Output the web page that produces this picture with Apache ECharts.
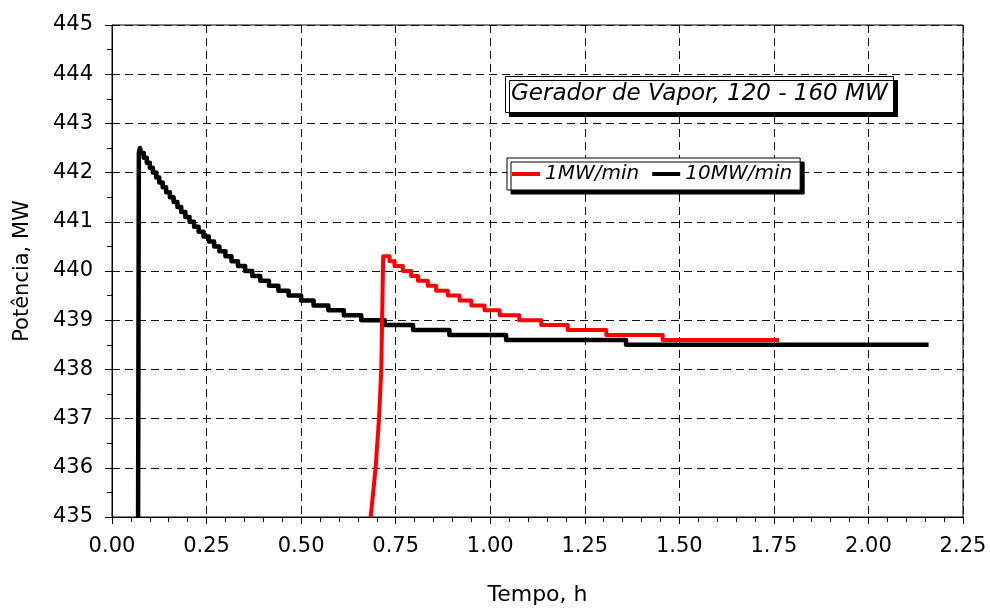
<!DOCTYPE html>
<html><head><meta charset="utf-8">
<script src="https://cdn.jsdelivr.net/npm/echarts@6/dist/echarts.min.js"></script>
<style>html,body{margin:0;padding:0;background:#fff}#c{width:990px;height:611px}</style>
</head><body><div id="c"></div>
<script>
// Axis settings
const xMin = 0, xMax = 2.25, xStep = 0.25;
const yMin = 435, yMax = 445, yStep = 1;

const seriesNames = ['1MW/min', '10MW/min'];

// 10MW/min (black): ramp points then step drops (time h, new level MW)
const blackRampX = [0.069, 0.071, 0.074];
const blackRampY = [435, 442.4, 442.5];
const blackStepX = [0.077,0.084,0.092,0.100,0.108,0.117,0.125,0.134,0.143,0.153,0.163,0.173,0.183,0.194,0.205,0.217,0.229,0.242,0.256,0.270,0.284,0.300,0.316,0.333,0.352,0.371,0.392,0.415,0.440,0.467,0.500,0.533,0.572,0.613,0.659,0.721,0.796,0.892,1.042,1.359];
const blackStepY = [442.4,442.3,442.2,442.1,442.0,441.9,441.8,441.7,441.6,441.5,441.4,441.3,441.2,441.1,441.0,440.9,440.8,440.7,440.6,440.5,440.4,440.3,440.2,440.1,440.0,439.9,439.8,439.7,439.6,439.5,439.4,439.3,439.2,439.1,439.0,438.9,438.8,438.7,438.6,438.5];
const blackEndX = 2.159;

// 1MW/min (red)
const redRampX = [0.684, 0.697, 0.706, 0.712, 0.7145, 0.717];
const redRampY = [435, 436, 437, 438, 439.2, 440.3];
const redStepX = [0.734,0.747,0.769,0.791,0.809,0.835,0.857,0.888,0.919,0.950,0.985,1.025,1.077,1.135,1.205,1.307,1.456];
const redStepY = [440.2,440.1,440.0,439.9,439.8,439.7,439.6,439.5,439.4,439.3,439.2,439.1,439.0,438.9,438.8,438.7,438.6];
const redEndX = 1.764;

function build(rx, ry, sx, sy, ex) {
  const pts = [];
  for (let i = 0; i < rx.length; i++) pts.push([rx[i], ry[i]]);
  let last = ry[ry.length - 1];
  for (let i = 0; i < sx.length; i++) {
    pts.push([sx[i], last]);
    pts.push([sx[i], sy[i]]);
    last = sy[i];
  }
  pts.push([ex, last]);
  return pts;
}

const FONT = 'DejaVu Sans';
const chart = echarts.init(document.getElementById('c'), null, {renderer: 'canvas'});
chart.setOption({
  animation: false,
  backgroundColor: '#fff',
  title: {
    text: 'Gerador de Vapor, 120 - 160 MW',
    left: 505, top: 76,
    padding: [7, 6, 7, 6],
    backgroundColor: '#fff',
    borderColor: '#000', borderWidth: 1,
    shadowColor: '#000', shadowBlur: 0, shadowOffsetX: 4, shadowOffsetY: 4,
    textStyle: {fontFamily: FONT, fontStyle: 'italic', fontWeight: 'normal', fontSize: 23, color: '#000'}
  },
  legend: {
    data: seriesNames.map(n => ({name: n, icon: 'rect'})),
    left: 507, top: 158,
    padding: [6, 8, 6, 5],
    itemWidth: 28, itemHeight: 4, itemGap: 13,
    backgroundColor: '#fff',
    borderColor: '#000', borderWidth: 1,
    shadowColor: '#000', shadowBlur: 0, shadowOffsetX: 4, shadowOffsetY: 4,
    textStyle: {fontFamily: FONT, fontStyle: 'italic', fontSize: 20, color: '#000'}
  },
  grid: {left: 112, right: 27, top: 25, bottom: 90, show: true, borderColor: '#000', borderWidth: 1, backgroundColor: 'transparent'},
  xAxis: {
    type: 'value', min: xMin, max: xMax, interval: xStep,
    name: 'Tempo, h', nameLocation: 'middle', nameGap: 67,
    nameTextStyle: {fontFamily: FONT, fontSize: 22, color: '#000'},
    axisLine: {show: true, lineStyle: {color: '#000', width: 1}},
    axisTick: {show: true, inside: false, length: 7, lineStyle: {color: '#000'}},
    minorTick: {show: true, splitNumber: 5, length: 5, lineStyle: {color: '#000'}},
    axisLabel: {fontFamily: FONT, fontSize: 21, color: '#000', margin: 19, formatter: v => v.toFixed(2)},
    splitLine: {show: true, lineStyle: {color: '#111', type: [8, 5], width: 1}}
  },
  yAxis: {
    type: 'value', min: yMin, max: yMax, interval: yStep,
    name: 'Potência, MW', nameLocation: 'middle', nameGap: 79, nameRotate: 90,
    nameTextStyle: {fontFamily: FONT, fontSize: 21, color: '#000'},
    axisLine: {show: true, lineStyle: {color: '#000', width: 1}},
    axisTick: {show: true, inside: false, length: 7, lineStyle: {color: '#000'}},
    minorTick: {show: true, splitNumber: 2, length: 5, lineStyle: {color: '#000'}},
    axisLabel: {fontFamily: FONT, fontSize: 21, color: '#000', margin: 19},
    splitLine: {show: true, lineStyle: {color: '#111', type: [8, 5], width: 1}}
  },
  series: [
    {
      name: seriesNames[1], type: 'line', symbol: 'none', clip: true,
      color: '#000', lineStyle: {color: '#000', width: 4.5, join: 'round'},
      data: build(blackRampX, blackRampY, blackStepX, blackStepY, blackEndX), z: 2
    },
    {
      name: seriesNames[0], type: 'line', symbol: 'none', clip: true,
      color: '#ff0000', lineStyle: {color: '#ff0000', width: 4, join: 'round'},
      data: build(redRampX, redRampY, redStepX, redStepY, redEndX), z: 3
    }
  ]
});
</script>
</body></html>
